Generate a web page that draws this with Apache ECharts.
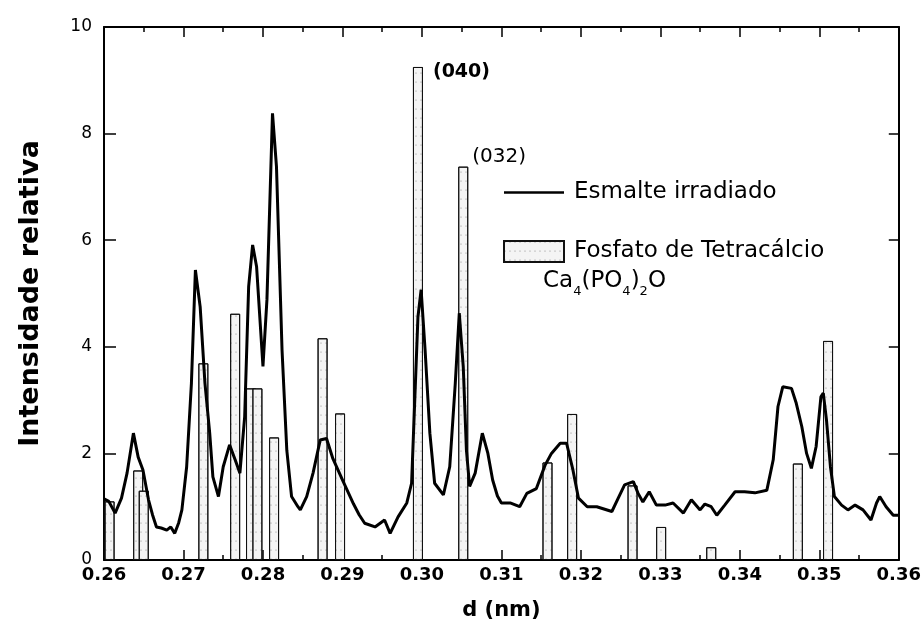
<!DOCTYPE html>
<html>
<head>
<meta charset="utf-8">
<script src="https://cdn.jsdelivr.net/npm/echarts@6/dist/echarts.min.js"></script>
<style>
  html, body { margin: 0; padding: 0; background: #fff; }
  #chart { width: 924px; height: 640px; }
</style>
</head>
<body>
<div id="chart"></div>
<script>
// espectro medido (d em nm, intensidade relativa)
const linhaD = [
  0.2600, 0.2606, 0.2614, 0.2622, 0.2629, 0.2637, 0.2643, 0.2649, 0.2656, 0.2661,
  0.2666, 0.2672, 0.2679, 0.2684, 0.2689, 0.2694, 0.2698, 0.2704, 0.2710, 0.2715,
  0.2721, 0.2727, 0.2733, 0.2737, 0.2744, 0.2750, 0.2758, 0.2765, 0.2771, 0.2777,
  0.2782, 0.2787, 0.2792, 0.2800, 0.2805, 0.2812, 0.2817, 0.2824, 0.2830, 0.2836,
  0.2844, 0.2847, 0.2855, 0.2863, 0.2872, 0.2880, 0.2888, 0.2901, 0.2914, 0.2921,
  0.2928, 0.2941, 0.2953, 0.2960, 0.2970, 0.2981, 0.2987, 0.2991, 0.2995, 0.2999,
  0.3004, 0.3010, 0.3016, 0.3027, 0.3035, 0.3042, 0.3047, 0.3052, 0.3056, 0.3060,
  0.3067, 0.3076, 0.3083, 0.3089, 0.3095, 0.3100, 0.3111, 0.3123, 0.3132, 0.3144,
  0.3155, 0.3163, 0.3174, 0.3182, 0.3190, 0.3197, 0.3208, 0.3220, 0.3239, 0.3247,
  0.3255, 0.3266, 0.3272, 0.3278, 0.3286, 0.3295, 0.3306, 0.3316, 0.3329, 0.3339,
  0.3350, 0.3356, 0.3364, 0.3371, 0.3381, 0.3394, 0.3406, 0.3419, 0.3434, 0.3442,
  0.3448, 0.3454, 0.3465, 0.3471, 0.3478, 0.3484, 0.3490, 0.3496, 0.3502, 0.3505,
  0.3509, 0.3514, 0.3519, 0.3528, 0.3536, 0.3545, 0.3555, 0.3565, 0.3572, 0.3576,
  0.3584, 0.3593, 0.3600
];
const linhaI = [
  1.15, 1.10, 0.88, 1.16, 1.63, 2.38, 1.93, 1.69, 1.13, 0.85,
  0.62, 0.60, 0.56, 0.62, 0.50, 0.70, 0.94, 1.75, 3.32, 5.44,
  4.75, 3.32, 2.38, 1.56, 1.19, 1.75, 2.16, 1.88, 1.63, 2.69,
  5.13, 5.91, 5.50, 3.63, 4.88, 8.38, 7.38, 3.94, 2.06, 1.19,
  1.00, 0.94, 1.19, 1.63, 2.25, 2.28, 1.90, 1.47, 1.05, 0.85,
  0.69, 0.62, 0.75, 0.50, 0.81, 1.07, 1.44, 3.00, 4.56, 5.07,
  3.94, 2.38, 1.44, 1.22, 1.75, 3.32, 4.63, 3.63, 2.06, 1.38,
  1.63, 2.38, 2.00, 1.50, 1.20, 1.07, 1.07, 1.00, 1.25, 1.34,
  1.78, 2.00, 2.19, 2.19, 1.69, 1.16, 1.00, 1.00, 0.91, 1.16,
  1.41, 1.47, 1.25, 1.09, 1.28, 1.03, 1.03, 1.07, 0.88, 1.13,
  0.94, 1.05, 1.00, 0.84, 1.03, 1.28, 1.28, 1.26, 1.31, 1.88,
  2.88, 3.25, 3.22, 2.94, 2.50, 2.00, 1.72, 2.13, 3.06, 3.13,
  2.63, 1.75, 1.19, 1.03, 0.94, 1.03, 0.94, 0.75, 1.07, 1.19,
  1.00, 0.84, 0.84
];

// padrão do fosfato de tetracálcio
const barrasD = [
  0.2607, 0.2643, 0.2650, 0.2725, 0.2765, 0.2785, 0.2793, 0.2814, 0.2875, 0.2897,
  0.2995, 0.3052, 0.3158, 0.3189, 0.3265, 0.3301, 0.3364, 0.3473, 0.3511
];
const barrasI = [
  1.10, 1.68, 1.30, 3.69, 4.62, 3.22, 3.22, 2.30, 4.16, 2.75,
  9.25, 7.38, 1.83, 2.74, 1.40, 0.62, 0.24, 1.81, 4.11
];
// índices dos picos anotados
const picos = { 10: '(040)', 11: '(032)' };

const xTicks = ['0.26', '0.27', '0.28', '0.29', '0.30', '0.31', '0.32', '0.33', '0.34', '0.35', '0.36'];

const fonte = 'DejaVu Sans';

const chart = echarts.init(document.getElementById('chart'));

const dadosLinha = linhaD.map((d, i) => [d, linhaI[i]]);
const dadosBarras = barrasD.map((d, i) => {
  const item = { value: [d, barrasI[i]] };
  if (picos[i] === '(040)') {
    item.label = {
      show: true, formatter: picos[i], position: [20, -4],
      fontFamily: fonte, fontWeight: 'bold', fontSize: 19, color: '#000',
      align: 'left', verticalAlign: 'top'
    };
  } else if (picos[i]) {
    item.label = {
      show: true, formatter: picos[i], position: [14, -20],
      fontFamily: fonte, fontSize: 20, color: '#000',
      align: 'left', verticalAlign: 'top'
    };
  }
  return item;
});

const eixoX = {
  type: 'value',
  min: 0.26,
  max: 0.36,
  interval: 0.01,
  axisLine: { show: true, onZero: false, lineStyle: { color: '#000', width: 2 } },
  axisTick: { show: true, inside: true, length: 10, lineStyle: { color: '#000', width: 1.5 } },
  minorTick: { show: true, splitNumber: 2, length: 5, lineStyle: { color: '#000', width: 1.5 } },
  splitLine: { show: false }
};

const option = {
  animation: false,
  backgroundColor: '#fff',
  grid: { left: 104, right: 25, top: 27, bottom: 80 },
  xAxis: [
    Object.assign({}, eixoX, {
      position: 'bottom',
      name: 'd (nm)',
      nameLocation: 'middle',
      nameGap: 40,
      nameTextStyle: { fontFamily: fonte, fontWeight: 'bold', fontSize: 21, color: '#000' },
      axisLabel: {
        margin: 6,
        fontFamily: fonte, fontWeight: 'bold', fontSize: 18, color: '#000',
        formatter: v => xTicks[Math.round((v - 0.26) / 0.01)]
      }
    }),
    Object.assign({}, eixoX, { position: 'top', axisLabel: { show: false } })
  ],
  yAxis: [
    {
      type: 'value',
      min: 0,
      max: 10,
      interval: 2,
      position: 'left',
      name: 'Intensidade relativa',
      nameLocation: 'middle',
      nameGap: 60,
      nameTextStyle: { fontFamily: fonte, fontWeight: 'bold', fontSize: 27, color: '#000' },
      axisLine: { show: true, lineStyle: { color: '#000', width: 2 } },
      axisTick: { show: true, inside: true, length: 12, lineStyle: { color: '#000', width: 1.5 } },
      axisLabel: { margin: 12, fontFamily: fonte, fontSize: 17, color: '#000' },
      splitLine: { show: false }
    },
    {
      type: 'value',
      min: 0,
      max: 10,
      interval: 2,
      position: 'right',
      axisLine: { show: true, lineStyle: { color: '#000', width: 2 } },
      axisTick: { show: true, inside: true, length: 10, lineStyle: { color: '#000', width: 1.5 } },
      axisLabel: { show: false },
      splitLine: { show: false }
    }
  ],
  legend: {
    orient: 'vertical',
    left: 498,
    top: 176,
    itemWidth: 60,
    itemHeight: 21,
    itemGap: 36,
    symbolKeepAspect: true,
    selectedMode: false,
    textStyle: { fontFamily: fonte, fontSize: 23, color: '#000', padding: [0, 0, 0, 5] },
    data: [
      { name: 'Esmalte irradiado', icon: 'path://M0,0L60,0L60,2.5L0,2.5Z', itemStyle: { color: '#000' } },
      { name: 'Fosfato de Tetracálcio', icon: 'rect' }
    ]
  },
  graphic: [
    {
      type: 'text',
      left: 543,
      top: 264,
      style: {
        text: 'Ca{s|4}(PO{s|4}){s|2}O',
        fontFamily: fonte,
        fontSize: 23,
        lineHeight: 34,
        fill: '#000',
        rich: {
          s: { fontFamily: fonte, fontSize: 13, lineHeight: 34, verticalAlign: 'bottom', fill: '#000' }
        }
      }
    }
  ],
  series: [
    {
      name: 'Fosfato de Tetracálcio',
      type: 'bar',
      barWidth: 10,
      barGap: '-100%',
      data: dadosBarras,
      itemStyle: {
        color: '#f4f4f4',
        borderColor: '#111',
        borderWidth: 1,
        decal: {
          symbol: 'circle',
          symbolSize: 0.5,
          dashArrayX: [2, 3],
          dashArrayY: [2, 7],
          color: 'rgba(0,0,0,0.55)'
        }
      }
    },
    {
      name: 'Esmalte irradiado',
      type: 'line',
      data: dadosLinha,
      symbol: 'none',
      smooth: false,
      lineStyle: { color: '#000', width: 3 },
      itemStyle: { color: '#000' },
      z: 3
    }
  ]
};

chart.setOption(option);
</script>
</body>
</html>
